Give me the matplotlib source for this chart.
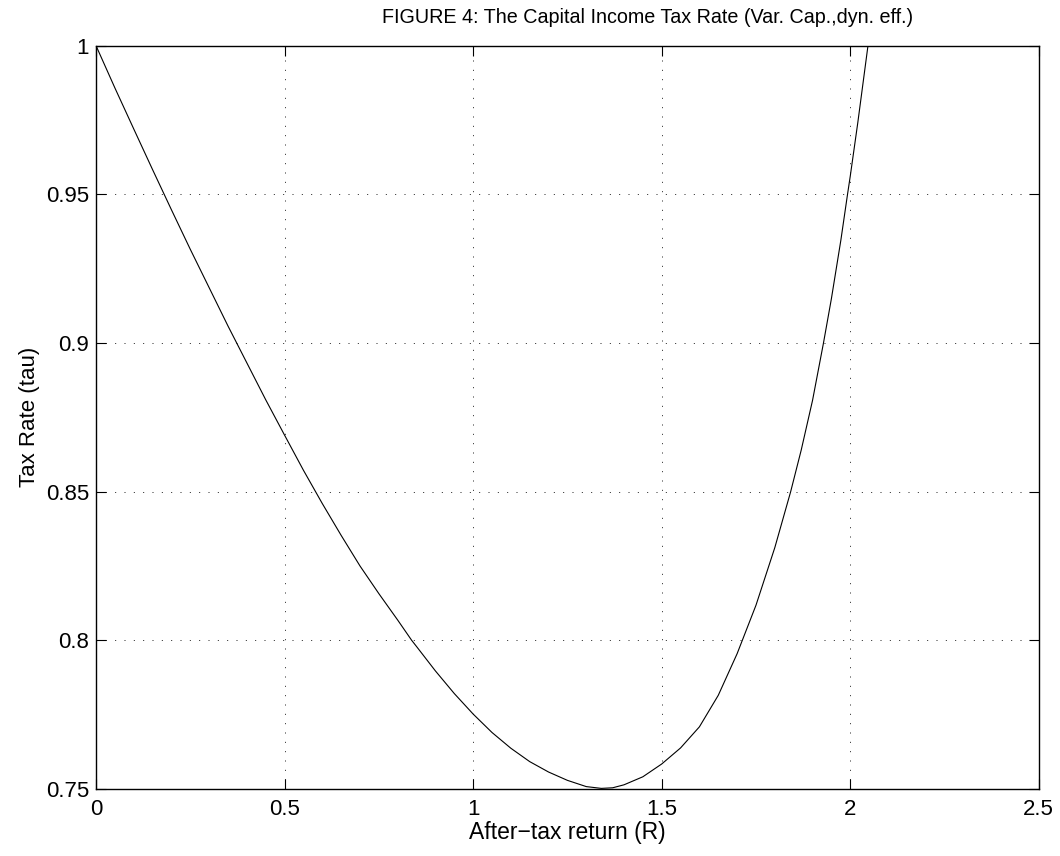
import matplotlib
matplotlib.use("Agg")
import matplotlib.pyplot as plt

plt.rcParams['font.family'] = ['Liberation Sans', 'DejaVu Sans']

# After-tax return R and the resulting capital income tax rate tau
after_tax_return = [0.00, 0.05, 0.10, 0.15, 0.20, 0.25, 0.30, 0.35, 0.40,
                    0.45, 0.50, 0.55, 0.60, 0.65, 0.70, 0.75, 0.80, 0.837,
                    0.85, 0.90, 0.95, 1.00, 1.05, 1.10, 1.15, 1.20, 1.25,
                    1.30, 1.34, 1.37, 1.40, 1.45, 1.50, 1.55, 1.60, 1.65,
                    1.70, 1.75, 1.80, 1.842, 1.87, 1.90, 1.929, 1.95, 1.975,
                    1.993, 2.00, 2.02, 2.047]
tax_rate = [1.0000, 0.9858, 0.9720, 0.9583, 0.9448, 0.9315, 0.9186, 0.9057,
            0.8933, 0.8809, 0.8690, 0.8572, 0.8460, 0.8353, 0.8250, 0.8157,
            0.8068, 0.8000, 0.7979, 0.7897, 0.7821, 0.7752, 0.7690, 0.7637,
            0.7592, 0.7557, 0.7529, 0.7508, 0.7502, 0.7504, 0.7514, 0.7541,
            0.7584, 0.7638, 0.7709, 0.7815, 0.7955, 0.8118, 0.8312, 0.8500,
            0.8640, 0.8807, 0.9000, 0.9149, 0.9345, 0.9502, 0.9561, 0.9741,
            1.0000]

x_ticks = [0, 0.5, 1, 1.5, 2, 2.5]
x_tick_labels = ['0', '0.5', '1', '1.5', '2', '2.5']
y_ticks = [0.75, 0.8, 0.85, 0.9, 0.95, 1.0]
y_tick_labels = ['0.75', '0.8', '0.85', '0.9', '0.95', '1']

fig = plt.figure(figsize=(10.6, 8.56), dpi=100)
ax = fig.add_axes([0.0906, 0.0783, 0.8894, 0.8683])

ax.plot(after_tax_return, tax_rate, color='black', linewidth=0.8,
        solid_joinstyle='round')

ax.set_xlim(0, 2.5)
ax.set_ylim(0.75, 1.0)
ax.set_xticks(x_ticks)
ax.set_xticklabels(x_tick_labels)
ax.set_yticks(y_ticks)
ax.set_yticklabels(y_tick_labels)

ax.tick_params(direction='in', length=7, width=0.8, top=True, right=True,
               labelsize=16, pad=5, colors='black')
ax.tick_params(axis='x', pad=7)
for sp in ax.spines.values():
    sp.set_linewidth(1.0)
    sp.set_color('black')

ax.grid(True, color='black', linewidth=0.6, linestyle=(0, (1.2, 10)))

fig.text(0.611, 0.980,
         'FIGURE 4: The Capital Income Tax Rate (Var. Cap.,dyn. eff.)',
         fontsize=14.2, ha='center', va='center')
ax.set_xlabel('After\u2212tax return (R)', fontsize=16.5, labelpad=1)
ax.set_ylabel('Tax Rate (tau)', fontsize=16, labelpad=4)

fig.savefig('out.png', dpi=100, facecolor='white')
